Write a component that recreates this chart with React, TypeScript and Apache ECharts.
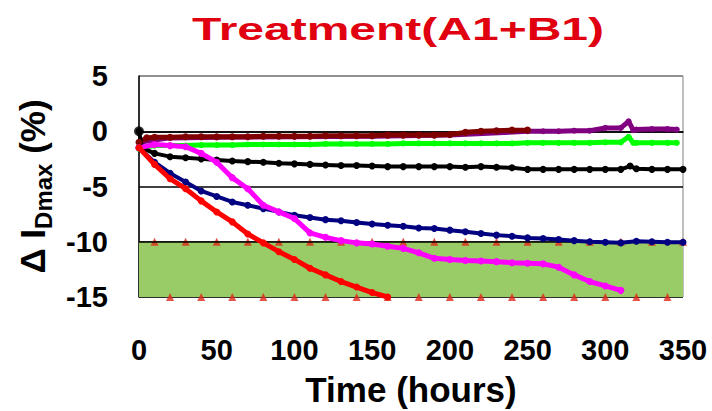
import React, { useEffect, useRef } from "react";
import * as echarts from "echarts";

// Degradation curves: [time in hours, change of I_Dmax in %]
const blackSeries: [number, number][] = [
  [0, 0], [2, -1.5], [10, -2.0], [20, -2.3], [30, -2.4], [40, -2.5], [50, -2.6], [60, -2.7],
  [70, -2.75], [80, -2.8], [90, -2.9], [100, -2.95], [110, -3.0], [120, -3.05], [130, -3.1],
  [140, -3.1], [150, -3.15], [160, -3.2], [170, -3.2], [180, -3.2], [190, -3.2], [200, -3.2],
  [210, -3.25], [220, -3.2], [230, -3.25], [240, -3.3], [250, -3.45], [260, -3.45], [270, -3.45],
  [280, -3.45], [290, -3.45], [300, -3.45], [310, -3.45], [316, -3.15], [320, -3.4], [330, -3.45],
  [340, -3.45], [350, -3.45],
];

const maroonSeries: [number, number][] = [
  [0, -1.0], [5, -0.6], [10, -0.55], [20, -0.55], [30, -0.5], [40, -0.5], [50, -0.5], [60, -0.5],
  [70, -0.5], [80, -0.45], [90, -0.45], [100, -0.45], [110, -0.45], [120, -0.4], [130, -0.4],
  [140, -0.4], [150, -0.4], [160, -0.35], [170, -0.35], [180, -0.35], [190, -0.35], [200, -0.3],
  [210, -0.1], [220, 0.0], [230, 0.05], [240, 0.1], [250, 0.1],
];

const purpleSeries: [number, number][] = [
  [0, -1.0], [20, -0.6], [50, -0.55], [100, -0.5], [150, -0.45], [200, -0.35], [250, 0.0],
  [260, 0.0], [270, 0.0], [280, 0.05], [290, 0.05], [300, 0.3], [310, 0.3], [315, 0.9],
  [318, 0.1], [320, 0.15], [330, 0.2], [340, 0.2], [346, 0.15],
];

const greenSeries: [number, number][] = [
  [0, -1.6], [5, -1.4], [10, -1.3], [20, -1.3], [30, -1.3], [40, -1.25], [50, -1.25], [60, -1.25],
  [70, -1.2], [80, -1.2], [90, -1.2], [100, -1.2], [110, -1.2], [120, -1.15], [130, -1.15],
  [140, -1.15], [150, -1.15], [160, -1.15], [170, -1.1], [180, -1.1], [190, -1.1], [200, -1.1],
  [210, -1.1], [220, -1.1], [230, -1.1], [240, -1.1], [250, -1.05], [260, -1.05], [270, -1.05],
  [280, -1.05], [290, -1.05], [300, -1.0], [310, -1.0], [315, -0.5], [318, -1.05], [320, -1.05],
  [330, -1.05], [340, -1.05], [346, -1.05],
];

const navySeries: [number, number][] = [
  [0, -1.5], [10, -2.8], [20, -3.8], [30, -4.6], [40, -5.4], [50, -5.9], [60, -6.4], [70, -6.7],
  [80, -7.0], [90, -7.3], [100, -7.6], [110, -7.8], [120, -8.0], [130, -8.1], [140, -8.25],
  [150, -8.4], [160, -8.5], [170, -8.6], [180, -8.75], [190, -8.8], [200, -8.95], [210, -9.1],
  [220, -9.25], [230, -9.4], [240, -9.5], [250, -9.65], [260, -9.7], [270, -9.8], [280, -9.9],
  [290, -10.0], [300, -10.05], [310, -10.1], [320, -9.95], [330, -10.0], [340, -10.05], [350, -10.05],
];

const magentaSeries: [number, number][] = [
  [0, -1.5], [10, -1.2], [20, -1.3], [30, -1.4], [40, -2.0], [50, -2.8], [60, -4.2], [70, -5.2],
  [80, -6.7], [90, -7.3], [100, -7.9], [110, -9.2], [120, -9.6], [130, -9.9], [140, -10.1],
  [150, -10.2], [160, -10.4], [170, -10.6], [180, -11.0], [190, -11.5], [200, -11.6], [210, -11.7],
  [220, -11.75], [230, -11.8], [240, -11.9], [250, -11.95], [260, -12.0], [270, -12.3],
  [280, -13.0], [290, -13.6], [300, -14.0], [310, -14.4],
];

const redSeries: [number, number][] = [
  [0, -1.5], [10, -3.0], [20, -4.3], [30, -5.2], [40, -6.3], [50, -7.3], [60, -8.2], [70, -9.3],
  [80, -10.1], [90, -10.9], [100, -11.6], [110, -12.4], [120, -13.0], [130, -13.6], [140, -14.1],
  [150, -14.6], [160, -15.0],
];

// Failure band limits and the marker positions drawn along its edges
const bandTop = -10;
const bandBottom = -15;
const bandTopMarkHours = [10, 30, 50, 70, 90, 110, 130, 150, 170, 190, 210, 230, 250, 270, 290, 310, 330, 350];
const bandBottomMarkHours = [20, 40, 60, 80, 100, 120, 140, 160, 180, 200, 220, 240, 260, 280, 300, 320, 340];

const xTicks = { min: 0, max: 350, interval: 50 };
const yTicks = { min: -15, max: 5, interval: 5 };

const FONT = '"Liberation Sans", Arial, Helvetica, sans-serif';

export default function App() {
  const ref = useRef<HTMLDivElement>(null);

  useEffect(() => {
    if (!ref.current) return;
    const chart = echarts.init(ref.current, null, { renderer: "svg" });

    const curve = (name: string, color: string, data: [number, number][], z: number, width = 4, size = 6) => ({
      name,
      type: "line",
      data,
      z,
      symbol: "circle",
      symbolSize: size,
      showSymbol: true,
      itemStyle: { color },
      lineStyle: { color, width },
      silent: true,
    });

    chart.setOption({
      animation: false,
      backgroundColor: "#ffffff",
      graphic: [
        {
          type: "text",
          x: 398,
          y: 29,
          scaleX: 1.5,
          style: {
            text: "Treatment(A1+B1)",
            fill: "#e00010",
            font: `bold 32px ${FONT}`,
            align: "center",
            verticalAlign: "middle",
          },
        },
      ],
      grid: {
        left: 139,
        top: 76,
        right: 29,
        bottom: 114,
        outerBoundsMode: "none",
        containLabel: false,
        show: true,
        borderColor: "#808080",
        borderWidth: 1,
        backgroundColor: "#ffffff",
      },
      xAxis: {
        type: "value",
        ...xTicks,
        name: "Time (hours)",
        nameLocation: "middle",
        nameGap: 75,
        nameTextStyle: { fontFamily: FONT, fontWeight: "bold", fontSize: 35, color: "#000" },
        axisLine: { show: true, lineStyle: { color: "#000", width: 1.5 } },
        axisTick: { show: false },
        splitLine: { show: false },
        axisLabel: { margin: 38, fontFamily: FONT, fontWeight: "bold", fontSize: 29, color: "#000" },
      },
      yAxis: {
        type: "value",
        ...yTicks,
        name: "{a|Δ I}{s|Dmax}{a| (%)}",
        nameLocation: "middle",
        nameGap: 82,
        nameRotate: 90,
        nameTextStyle: {
          fontFamily: FONT,
          fontWeight: "bold",
          color: "#000",
          rich: {
            a: { fontFamily: FONT, fontWeight: "bold", fontSize: 35, verticalAlign: "top", lineHeight: 40 },
            s: { fontFamily: FONT, fontWeight: "bold", fontSize: 24, verticalAlign: "top", lineHeight: 28, padding: [16, 0, 0, 0] },
          },
        },
        axisLine: { show: true, onZero: false, lineStyle: { color: "#000", width: 1.5 } },
        axisTick: { show: false },
        splitLine: {
          show: true,
          lineStyle: { color: ["#000", "#000", "#000", "#000", "#808080"], width: 1.5 },
        },
        axisLabel: { margin: 31, fontFamily: FONT, fontWeight: "bold", fontSize: 29, color: "#000" },
      },
      series: [
        {
          name: "band",
          type: "scatter",
          data: bandTopMarkHours.map((h) => [h, bandTop]),
          symbol: "triangle",
          symbolSize: 8,
          itemStyle: { color: "#e0281a" },
          z: 2,
          silent: true,
          markArea: {
            silent: true,
            itemStyle: { color: "#99cc66" },
            data: [[{ yAxis: bandTop }, { yAxis: bandBottom }]],
          },
        },
        {
          name: "band-bottom",
          type: "scatter",
          data: bandBottomMarkHours.map((h) => [h, bandBottom]),
          symbol: "triangle",
          symbolSize: 8,
          itemStyle: { color: "#e0281a" },
          z: 3,
          silent: true,
          markLine: {
            silent: true,
            symbol: "none",
            z: 3,
            label: { show: false },
            lineStyle: { color: "#000", width: 1.5, type: "solid" },
            data: [{ yAxis: bandTop }],
          },
        },
        curve("purple", "#800080", purpleSeries, 4, 5, 6),
        curve("maroon", "#800000", maroonSeries, 5, 5, 7),
        curve("green", "#00ff00", greenSeries, 4, 5, 6),
        curve("black", "#000000", blackSeries, 5, 4, 7),
        curve("navy", "#000080", navySeries, 5, 4, 7),
        curve("magenta", "#ff00ff", magentaSeries, 6, 5, 7),
        curve("red", "#ff0000", redSeries, 7, 5, 7),
        {
          name: "origin",
          type: "scatter",
          data: [blackSeries[0]],
          symbol: "circle",
          symbolSize: 10,
          itemStyle: { color: "#000" },
          z: 8,
          silent: true,
        },
      ],
    });

    return () => chart.dispose();
  }, []);

  return (
    <div
      ref={ref}
      style={{ position: "absolute", left: 0, top: 0, width: 712, height: 411, background: "#fff" }}
    />
  );
}
